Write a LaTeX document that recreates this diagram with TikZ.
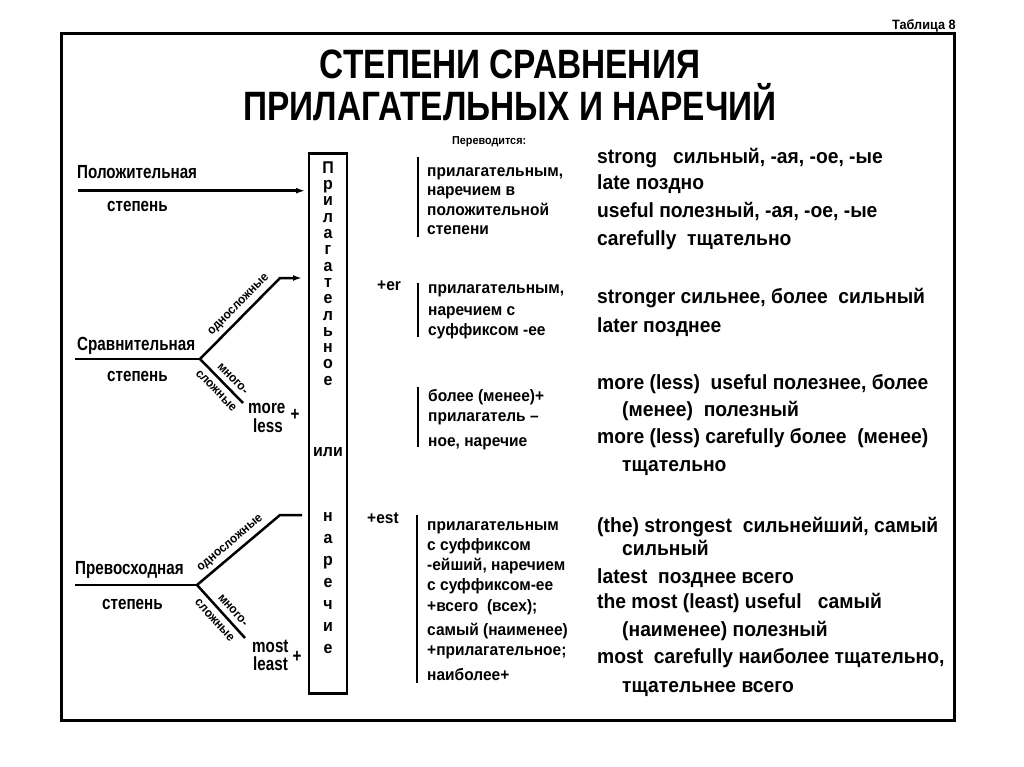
\documentclass[tikz,border=0pt]{standalone}
\usepackage{fontspec}
\setmainfont{Liberation Sans}
\newfontfamily\fT[FakeStretch=0.815]{Liberation Sans}
\newfontfamily\fL[FakeStretch=0.8]{Liberation Sans}
\newfontfamily\fM[FakeStretch=0.94]{Liberation Sans}
\usetikzlibrary{arrows.meta}
\begin{document}
\begin{tikzpicture}[x=1pt,y=-1pt,
  txt/.style={inner sep=0,anchor=base west},
  ttl/.style={inner sep=0,anchor=base,font=\fT\bfseries\fontsize{41}{41}\selectfont},
  lab/.style={txt,font=\fL\bfseries\fontsize{19}{19}\selectfont},
  mid/.style={txt,font=\fM\bfseries\fontsize{16.5}{16.5}\selectfont},
  rt/.style={txt,font=\fM\bfseries\fontsize{20.5}{20.5}\selectfont},
  sm/.style={inner sep=0,font=\fM\bfseries\fontsize{12.5}{12.5}\selectfont},
  vl/.style={inner sep=0,anchor=base,font=\fM\bfseries\fontsize{17}{17}\selectfont},
  br/.style={line width=2.5pt},
  brk/.style={line width=2pt},
  arr/.style={br,-{Latex[length=9pt,width=6pt]}}
]
\useasboundingbox (0,0) rectangle (1024,767);
% frame
\draw[line width=3pt] (61,34) rectangle (954,720);
\node[txt,font=\fM\bfseries\fontsize{13.5}{13.5}\selectfont] (tab) at (892,30) {Таблица 8};
% title
\node[ttl] (t1) at (510,79) {СТЕПЕНИ СРАВНЕНИЯ};
\node[ttl] (t2) at (510,121) {ПРИЛАГАТЕЛЬНЫХ И НАРЕЧИЙ};
% vertical box
\node[draw,line width=2.5pt,minimum width=38pt,minimum height=540pt,inner sep=0] (box) at (328,423.5) {};
\foreach \ch [count=\i] in {П,р,и,л,а,г,а,т,е,л,ь,н,о,е}
  \node[vl] (v\i) at (328,{173.3+16.3*(\i-1)}) {\ch};
\node[vl] (ili) at (328,456) {или};
\foreach \ch [count=\i] in {н,а,р,е,ч,и,е}
  \node[vl] (w\i) at (328,{521.7+21.9*(\i-1)}) {\ch};
% positive
\node[lab] (pos) at (77,179) {Положительная};
\node[lab] (posS) at (107,212) {степень};
\coordinate (p0) at (78,190.7);
\coordinate (p1) at (305,190.7);
\draw[arr] (p0) -- (p1);
% comparative
\node[lab] (cmp) at (77,350) {Сравнительная};
\node[lab] (cmpS) at (107,381) {степень};
\coordinate (c0) at (75,359);
\coordinate (cj) at (200,359);
\coordinate (cu) at (280,278);
\coordinate (ca) at (302,278);
\coordinate (cl) at (243,403);
\draw[br] (c0) -- (cj);
\draw[arr] (cj) -- node[sm,sloped,above=4pt,pos=.575] (cm1) {односложные} (cu) -- (ca);
\draw[br] (cj) -- node[sm,sloped,above=5pt,pos=.6] (cm2) {много-} node[sm,sloped,below=6pt,pos=.55] (cm3) {сложные} (cl);
\node[lab] (more) at (248,413) {more};
\node[lab] (less) at (253,432) {less};
\node[lab,anchor=center] (cplus) at (295,415) {+};
% superlative
\node[lab] (sup) at (75,574) {Превосходная};
\node[lab] (supS) at (102,609) {степень};
\coordinate (s0) at (75,585);
\coordinate (sj) at (197,585);
\coordinate (su) at (280,515);
\coordinate (sa) at (302,515);
\coordinate (sl) at (245,638);
\draw[br] (s0) -- (sj);
\draw[br] (sj) -- node[sm,sloped,above=4pt,pos=.48] (sm1) {односложные} (su) -- (sa);
\draw[br] (sj) -- node[sm,sloped,above=5pt,pos=.6] (sm2) {много-} node[sm,sloped,below=6pt,pos=.53] (sm3) {сложные} (sl);
\node[lab] (most) at (252,652) {most};
\node[lab] (least) at (253,670) {least};
\node[lab,anchor=center] (splus) at (297,657) {+};
% middle column
\node[txt,font=\fM\bfseries\fontsize{11.5}{11.5}\selectfont] (perev) at (452,145) {Переводится:};
\coordinate (b1t) at (418,157); \coordinate (b1b) at (418,237);
\coordinate (b2t) at (418,283); \coordinate (b2b) at (418,337);
\coordinate (b3t) at (418,387); \coordinate (b3b) at (418,447);
\coordinate (b4t) at (417,515); \coordinate (b4b) at (417,683);
\draw[brk] (b1t) -- (b1b);
\draw[brk] (b2t) -- (b2b);
\draw[brk] (b3t) -- (b3b);
\draw[brk] (b4t) -- (b4b);
\node[mid] (m11) at (427,176.7) {прилагательным,};
\node[mid] (m12) at (427,195.7) {наречием в};
\node[mid] (m13) at (427,215) {положительной};
\node[mid] (m14) at (427,235) {степени};
\node[mid] (er) at (377,290) {+er};
\node[mid] (m21) at (428,293) {прилагательным,};
\node[mid] (m22) at (428,315) {наречием с};
\node[mid] (m23) at (428,335) {суффиксом -ее};
\node[mid] (m31) at (428,401.7) {более (менее)+};
\node[mid] (m32) at (428,421.7) {прилагатель –};
\node[mid] (m33) at (428,446.7) {ное, наречие};
\node[mid] (est) at (367,523) {+est};
\node[mid] (m41) at (427,530) {прилагательным};
\node[mid] (m42) at (427,550) {с суффиксом};
\node[mid] (m43) at (427,570.7) {-ейший, наречием};
\node[mid] (m44) at (427,590.7) {с суффиксом-ее};
\node[mid] (m45) at (427,611.7) {+всего\ \ (всех);};
\node[mid] (m46) at (427,635) {самый (наименее)};
\node[mid] (m47) at (427,655) {+прилагательное;};
\node[mid] (m48) at (427,680) {наиболее+};
% right column
\node[rt] (r1) at (597,163.3) {strong\ \ \ сильный, -ая, -ое, -ые};
\node[rt] (r2) at (597,190) {late поздно};
\node[rt] (r3) at (597,218) {useful полезный, -ая, -ое, -ые};
\node[rt] (r4) at (597,245) {carefully\ \ тщательно};
\node[rt] (r5) at (597,303) {stronger сильнее, более\ \ сильный};
\node[rt] (r6) at (597,332) {later позднее};
\node[rt] (r7) at (597,389) {more (less)\ \ useful полезнее, более};
\node[rt] (r8) at (622,416) {(менее)\ \ полезный};
\node[rt] (r9) at (597,443) {more (less) carefully более\ \ (менее)};
\node[rt] (r10) at (622,471) {тщательно};
\node[rt] (r11) at (597,532) {(the) strongest\ \ сильнейший, самый};
\node[rt] (r12) at (622,555) {сильный};
\node[rt] (r13) at (597,583) {latest\ \ позднее всего};
\node[rt] (r14) at (597,608) {the most (least) useful\ \ \ самый};
\node[rt] (r15) at (622,636) {(наименее) полезный};
\node[rt] (r16) at (597,663) {most\ \ carefully наиболее тщательно,};
\node[rt] (r17) at (622,692) {тщательнее всего};
\end{tikzpicture}
\end{document}
